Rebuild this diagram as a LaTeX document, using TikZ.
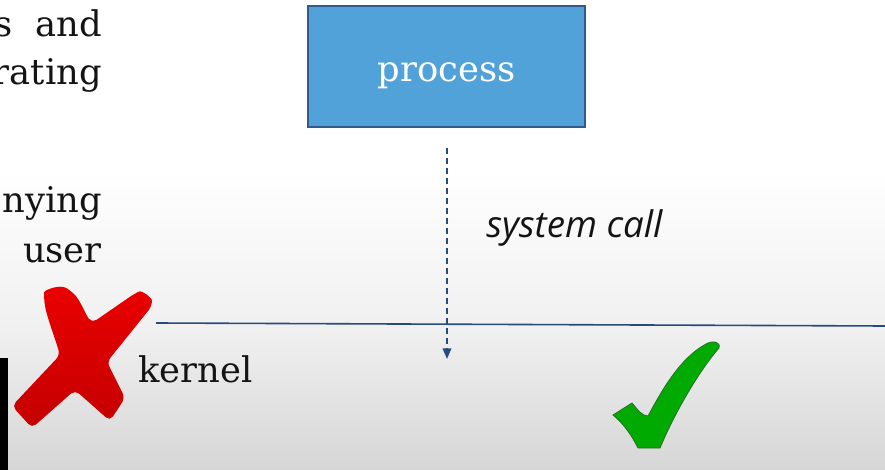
\documentclass[tikz,border=0pt]{standalone}
\usepackage{fontspec}
\setmainfont{DejaVu Serif}
\newfontfamily\slantfont{Open Sans}
\usetikzlibrary{arrows.meta}
\definecolor{boxfill}{RGB}{82,162,218}
\definecolor{boxedge}{RGB}{52,90,140}
\definecolor{linkblue}{RGB}{40,75,125}
\definecolor{crossred}{RGB}{234,0,0}
\definecolor{crossdark}{RGB}{196,0,0}
\definecolor{tickgreen}{RGB}{0,170,0}
\definecolor{tickedge}{RGB}{40,110,40}
\definecolor{inkgrey}{RGB}{20,20,20}
\definecolor{floormid}{RGB}{240,240,240}
\definecolor{floorlow}{RGB}{214,214,214}
\tikzset{
  bodytext/.style={font=\fontsize{26.5}{30}\selectfont, text=inkgrey, inner sep=0pt},
  procbox/.style={draw=boxedge, line width=1.4pt, fill=boxfill, minimum width=207.75pt,
    minimum height=90.75pt, text=white, font=\fontsize{26.5}{30}\selectfont,
    text height=28pt, text depth=5pt},
  callarrow/.style={draw=linkblue, line width=1.2pt, dash pattern=on 4.5pt off 3pt,
    -{Triangle[length=8pt,width=6.5pt]}},
  boundary/.style={draw=linkblue, line width=1.2pt}
}
\begin{document}
\begin{tikzpicture}[x=0.75pt,y=-0.75pt]
  % page and background
  \useasboundingbox (0,0) rectangle (885,470);
  \fill[white] (0,0) rectangle (885,171);
  \shade[top color=white, bottom color=floormid] (0,170) rectangle (885,331);
  \shade[top color=floormid, bottom color=floorlow] (0,330) rectangle (885,470);
  \fill[black] (0,358) rectangle (8,470);

  % clipped paragraph on the left
  \node[bodytext, anchor=base east] (l1) at (102,37) {s\ \ and};
  \node[bodytext, anchor=base east] (l2) at (102,85) {rating};
  \node[bodytext, anchor=base east] (l3) at (102,213) {nying};
  \node[bodytext, anchor=base east] (l4) at (102,263) {user};

  % process box
  \node[procbox] (proc) at (446.5,66.5) {process};

  % user/kernel boundary
  \coordinate (bleft) at (156,323);
  \coordinate (bright) at (885,326);
  \draw[boundary] (bleft) -- (bright);

  % system call arrow
  \coordinate (callstart) at (447,148);
  \coordinate (callend) at (447,359);
  \draw[callarrow] (callstart) -- (callend);
  \node[font=\slantfont\itshape\fontsize{27.5}{30}\selectfont, text=inkgrey, anchor=base west, inner sep=0pt]
    (syscall) at (486,238) {system call};

  \node[bodytext, anchor=base west] (kern) at (138,382) {kernel};

  % red cross
  \shade[top color=crossred, bottom color=crossdark, rounded corners=4pt]
    (44,298) .. controls (44,290) and (60,284) .. (71,291)
    .. controls (80,300) and (86,315) .. (92,323)
    -- (134,294) .. controls (142,290) and (152,298) .. (152,306)
    -- (107,362) -- (125,398) -- (110,421) -- (75,390)
    -- (32,428) -- (12,406) -- (60,355)
    .. controls (54,335) and (46,315) .. (44,298) -- cycle;

  % green tick
  \draw[fill=tickgreen, draw=tickedge, line width=0.6pt]
    (613,415) -- (632,403) .. controls (638,410) and (642,416) .. (648,416)
    .. controls (662,390) and (680,358) .. (706,344)
    .. controls (713,340) and (721,342) .. (719,348)
    .. controls (700,370) and (676,410) .. (660,448)
    -- (638,448) .. controls (632,436) and (624,424) .. (613,415) -- cycle;
\end{tikzpicture}
\end{document}
